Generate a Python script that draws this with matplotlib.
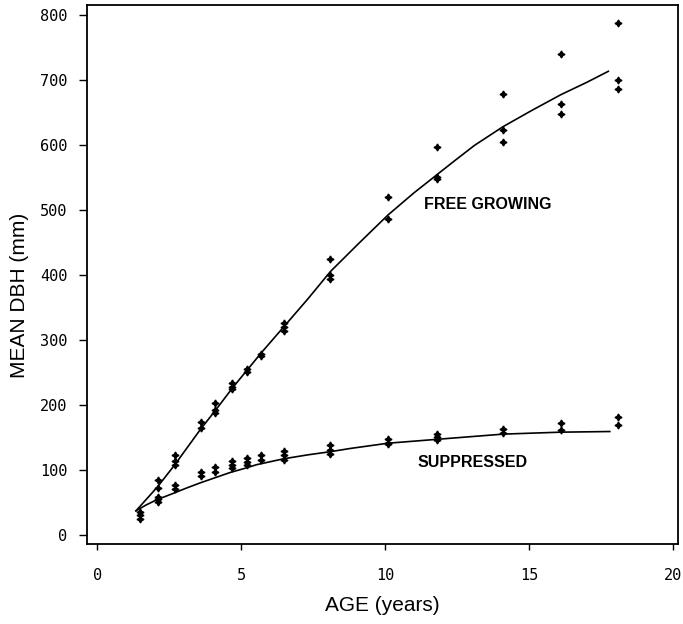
import matplotlib
matplotlib.use("Agg")
import matplotlib.pyplot as plt

# observed mean DBH (mm) by stand age (years)
free_age = [1.5, 1.5, 1.5, 2.1, 2.1, 2.7, 2.7, 2.7, 3.6, 3.6, 4.1, 4.1, 4.1,
            4.7, 4.7, 4.7, 5.2, 5.2, 5.7, 5.7, 6.5, 6.5, 6.5, 8.1, 8.1, 8.1,
            10.1, 10.1, 11.8, 11.8, 11.8, 14.1, 14.1, 14.1, 16.1, 16.1, 16.1,
            18.1, 18.1, 18.1]
free_dbh = [35, 31, 24, 85, 72, 123, 113, 107, 174, 164, 203, 192, 187,
            234, 227, 224, 255, 251, 278, 275, 326, 320, 314, 424, 400, 393,
            520, 486, 596, 551, 548, 678, 623, 605, 740, 662, 648,
            787, 700, 686]

supp_age = [2.1, 2.1, 2.1, 2.7, 2.7, 3.6, 3.6, 4.1, 4.1, 4.7, 4.7, 4.7,
            5.2, 5.2, 5.2, 5.7, 5.7, 6.5, 6.5, 6.5, 8.1, 8.1, 8.1,
            10.1, 10.1, 10.1, 11.8, 11.8, 11.8, 14.1, 14.1, 16.1, 16.1,
            18.1, 18.1]
supp_dbh = [58, 55, 51, 77, 71, 97, 91, 105, 96, 114, 108, 103,
            119, 112, 107, 123, 115, 129, 123, 115, 138, 131, 125,
            147, 142, 140, 155, 151, 146, 163, 156, 172, 162,
            181, 169]

# fitted curves
free_fit_age = [1.35, 2.1, 2.7, 3.6, 4.1, 4.7, 5.2, 5.7, 6.5, 7.3, 8.1, 9.1, 10.1,
                11.0, 11.8, 12.4, 13.1, 14.1, 15.1, 16.1, 17.0, 17.75]
free_fit_dbh = [37, 74, 108, 163, 191, 226, 253, 280, 321, 362, 405, 449, 492,
                526, 554, 575, 599, 628, 653, 677, 696, 713]

supp_fit_age = [1.35, 1.7, 2.07, 2.65, 3.1, 3.58, 4.1, 4.62, 5.1, 5.54, 6.47,
                7.3, 8.1, 8.8, 10.1, 11.8, 14.1, 16.1, 17.8]
supp_fit_dbh = [37, 46, 54, 64, 72, 80, 88, 96, 102, 108, 117,
                123, 128, 133, 141, 147, 155, 158, 159]

fig = plt.figure(figsize=(6.83, 6.24), dpi=100)
ax = fig.add_axes([0.1274, 0.1282, 0.8653, 0.8638])

star = (4, 1, 0)
ax.plot(free_fit_age, free_fit_dbh, color="black", lw=1.2)
ax.plot(supp_fit_age, supp_fit_dbh, color="black", lw=1.2)
ax.plot(free_age, free_dbh, ls="none", marker=star, ms=5, color="black")
ax.plot(supp_age, supp_dbh, ls="none", marker=star, ms=5, color="black")

ax.text(13.58, 508, "FREE GROWING", ha="center", va="center",
        fontsize=11.5, fontweight="bold", family="Liberation Sans")
ax.text(13.04, 112, "SUPPRESSED", ha="center", va="center",
        fontsize=11.5, fontweight="bold", family="Liberation Sans")

ax.set_xlim(-0.35, 20.17)
ax.set_ylim(-14, 815)
ax.set_xticks([0, 5, 10, 15, 20])
ax.set_yticks(range(0, 801, 100))

for lab in ax.get_xticklabels() + ax.get_yticklabels():
    lab.set_family("DejaVu Sans Mono")
    lab.set_fontsize(11)
ax.tick_params(axis="x", direction="out", length=4, width=1, pad=13)
ax.tick_params(axis="y", direction="out", length=6, width=1, pad=8)

for s in ax.spines.values():
    s.set_linewidth(1.3)

ax.set_xlabel("AGE (years)", fontsize=15, family="Liberation Sans")
ax.set_ylabel("MEAN DBH (mm)", fontsize=15, family="Liberation Sans")
ax.xaxis.set_label_coords(0.5, -0.097)
ax.yaxis.set_label_coords(-0.098, 0.462)

fig.savefig("out.png", dpi=100)
